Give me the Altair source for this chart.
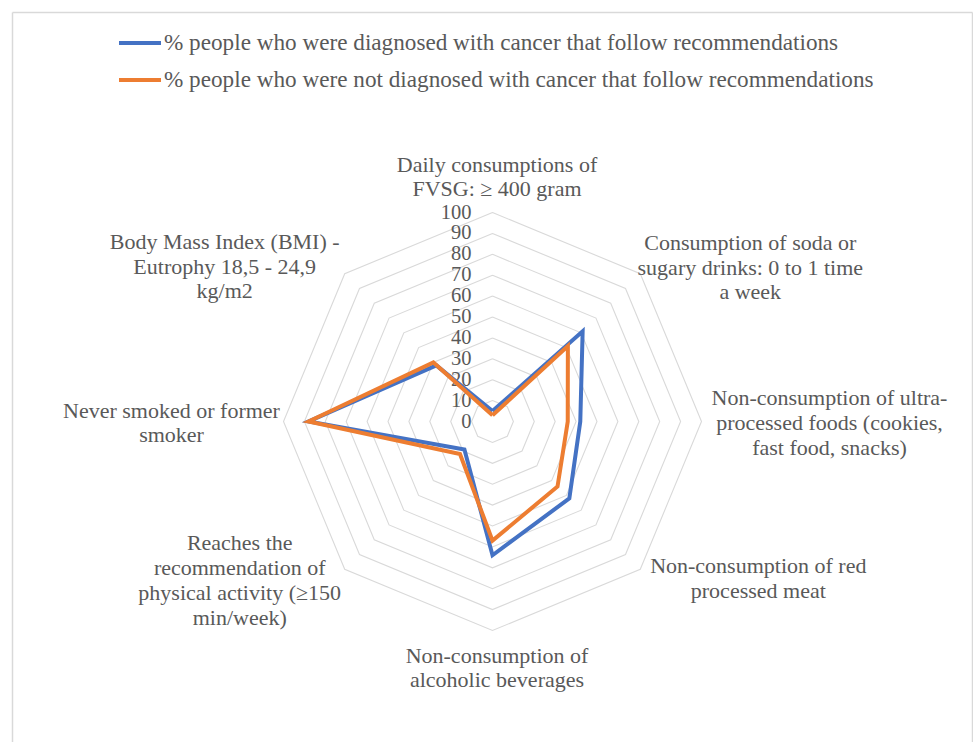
import altair as alt
import pandas as pd

# ---------------- data ----------------
categories = [
    "Daily consumptions of\nFVSG: ≥ 400 gram",
    "Consumption of soda or\nsugary drinks: 0 to 1 time\na week",
    "Non-consumption of ultra-\nprocessed foods (cookies,\nfast food, snacks)",
    "Non-consumption of red\nprocessed meat",
    "Non-consumption of\nalcoholic beverages",
    "Reaches the\nrecommendation of\nphysical activity (≥150\nmin/week)",
    "Never smoked or former\nsmoker",
    "Body Mass Index (BMI) -\nEutrophy 18,5 - 24,9\nkg/m2",
]
series_names = [
    "% people who were diagnosed with cancer that follow recommendations",
    "% people who were not diagnosed with cancer that follow recommendations",
]
diagnosed = [5, 61, 42, 52, 64, 19, 88, 38]
not_diagnosed = [3, 51, 36, 44, 57, 22, 88, 40]
ring_ticks = [0, 10, 20, 30, 40, 50, 60, 70, 80, 90, 100]
series_colors = ["#4472C4", "#ED7D31"]

# ---------------- tables ----------------
n = len(categories)
rows = []
for name, vals in zip(series_names, [diagnosed, not_diagnosed]):
    for i in range(n + 1):
        rows.append({"series": name, "idx": i, "value": vals[i % n]})
series_df = pd.DataFrame(rows)

ring_rows = []
for r in ring_ticks[1:]:
    for i in range(n + 1):
        ring_rows.append({"ring": r, "idx": i})
ring_df = pd.DataFrame(ring_rows)

ring_label_df = pd.DataFrame({"ring": ring_ticks, "label": [str(t) for t in ring_ticks]})
cat_df = pd.DataFrame({"idx": list(range(n)), "label": categories})

# ---------------- layout constants ----------------
W, H = 973, 742
CX, CY = 492.5, 421.5        # pixel center of radar
PX = 2.09                    # pixels per unit
xdom = [-CX / PX, (W - CX) / PX]
ydom = [-(H - CY) / PX, CY / PX]
FONT = "Liberation Serif"
TXT = "#595959"
GRID = "#D9D9D9"

xs = alt.Scale(domain=xdom, nice=False, zero=False)
ys = alt.Scale(domain=ydom, nice=False, zero=False)

ANG = "datum.idx * PI / 4"

rings = alt.Chart(ring_df).mark_line(color=GRID, strokeWidth=1.1).transform_calculate(
    x=f"datum.ring * sin({ANG})", y=f"datum.ring * cos({ANG})"
).encode(
    x=alt.X("x:Q", scale=xs, axis=None),
    y=alt.Y("y:Q", scale=ys, axis=None),
    detail="ring:N",
    order="idx:Q",
)

ring_labels = alt.Chart(ring_label_df).mark_text(
    align="right", baseline="middle", dx=-21, font=FONT, fontSize=20.5, color=TXT
).transform_calculate(x0="0").encode(
    x=alt.X("x0:Q", scale=xs, axis=None),
    y=alt.Y("ring:Q", scale=ys, axis=None),
    text="label:N",
)

lines = alt.Chart(series_df).mark_line(strokeWidth=4).transform_calculate(
    x=f"datum.value * sin({ANG})", y=f"datum.value * cos({ANG})"
).encode(
    x=alt.X("x:Q", scale=xs, axis=None),
    y=alt.Y("y:Q", scale=ys, axis=None),
    color=alt.Color(
        "series:N",
        scale=alt.Scale(domain=series_names, range=series_colors),
        legend=alt.Legend(
            title=None,
            orient="none",
            legendX=117,
            legendY=20,
            direction="vertical",
            symbolType="stroke",
            symbolSize=1764,
            symbolStrokeWidth=4,
            labelFont=FONT,
            labelFontSize=23.2,
            labelColor=TXT,
            labelLimit=1000,
            labelOffset=1,
            rowPadding=2,
            padding=0,
        ),
    ),
    order="idx:Q",
)

nudges = [(4.5, -48), (110, -31), (128, -23.5), (118, -3), (4.5, 25), (-105, -26), (-112, -11), (-120, -32)]
label_layers = []
for i, (dx, dy) in enumerate(nudges):
    label_layers.append(
        alt.Chart(cat_df).transform_filter(f"datum.idx == {i}").transform_calculate(
            x=f"100 * sin({ANG})", y=f"100 * cos({ANG})"
        ).mark_text(
            align="center", baseline="middle", dx=dx, dy=dy, lineBreak="\n",
            lineHeight=24.8, font=FONT, fontSize=22, color=TXT
        ).encode(
            x=alt.X("x:Q", scale=xs, axis=None),
            y=alt.Y("y:Q", scale=ys, axis=None),
            text="label:N",
        )
    )

one = pd.DataFrame({"a": [0]})
border = [
    alt.Chart(one).mark_rule(color=GRID, strokeWidth=1.5).encode(
        x=alt.value(12.5), y=alt.value(12.5), y2=alt.value(H)),
    alt.Chart(one).mark_rule(color=GRID, strokeWidth=1.5).encode(
        x=alt.value(12.5), x2=alt.value(972.5), y=alt.value(12.5)),
    alt.Chart(one).mark_rule(color=GRID, strokeWidth=1.5).encode(
        x=alt.value(972.5), y=alt.value(12.5), y2=alt.value(H)),
]

chart = alt.layer(*border, rings, ring_labels, lines, *label_layers).properties(
    width=W, height=H, padding=0, autosize=alt.AutoSizeParams(type="none"),
    background="white",
).configure_view(stroke=None)

chart.save("out.html", embed_options={"renderer": "svg", "actions": False})
